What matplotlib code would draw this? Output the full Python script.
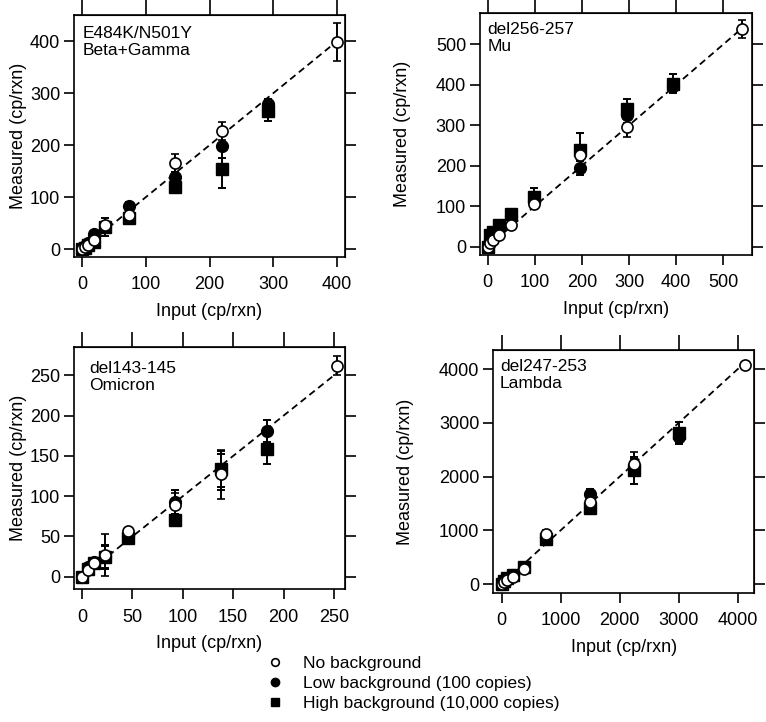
import matplotlib
matplotlib.use("Agg")
import matplotlib.pyplot as plt
from matplotlib.lines import Line2D
import numpy as np

plt.rcParams['font.family'] = ['Liberation Sans', 'DejaVu Sans']

# ---- data ----
# panel 1: E484K/N501Y
p1_x_open = [0, 4.6, 9.1, 18.3, 36.5, 73, 146, 219, 400]
p1_y_open = [0, 4, 9, 17, 46, 66, 166, 227, 398]
p1_e_open = [0.5, 1, 2, 3, 6, 5, 17, 17, 36]
p1_x_fill = [0, 4.6, 9.1, 18.3, 36.5, 73, 146, 219, 292]
p1_y_fill = [0, 6, 12, 30, 44, 84, 138, 198, 280]
p1_e_fill = [0.5, 2, 3, 5, 6, 6, 10, 23, 8]
p1_y_sq = [0, 3, 8, 14, 43, 60, 120, 154, 265]
p1_e_sq = [0.5, 2, 3, 4, 17, 5, 12, 36, 19]

# panel 2: del256-257
p2_x_open = [0, 6.2, 12.3, 24.6, 49, 98.5, 197, 295, 540]
p2_y_open = [0, 8, 16, 28, 54, 106, 227, 296, 538]
p2_e_open = [0.5, 1, 2, 3, 4, 12, 10, 25, 22]
p2_x_fill = [0, 6.2, 12.3, 24.6, 49, 98.5, 197, 295, 394]
p2_y_fill = [0, 20, 25, 45, 75, 112, 194, 325, 398]
p2_e_fill = [0.5, 2, 3, 4, 5, 8, 18, 20, 10]
p2_y_sq = [0, 30, 36, 53, 82, 123, 238, 341, 403]
p2_e_sq = [0.5, 3, 3, 4, 5, 22, 42, 25, 24]

# panel 3: del143-145
p3_x_open = [0, 5.75, 11.5, 23, 46, 92, 138, 253]
p3_y_open = [0, 8, 17, 27, 57, 89, 127, 262]
p3_e_open = [0.5, 1, 2, 26, 3, 15, 30, 12]
p3_x_fill = [0, 5.75, 11.5, 23, 46, 92, 138, 184]
p3_y_fill = [0, 12, 18, 25, 50, 93, 130, 181]
p3_e_fill = [0.5, 2, 3, 14, 3, 15, 22, 14]
p3_y_sq = [0, 10, 17, 24, 48, 70, 134, 159]
p3_e_sq = [0.5, 2, 3, 14, 3, 4, 22, 19]

# panel 4: del247-253
p4_x_open = [0, 47, 94, 188, 375, 750, 1500, 2250, 4120]
p4_y_open = [0, 40, 80, 140, 275, 940, 1520, 2230, 4080]
p4_e_open = [5, 10, 15, 20, 40, 60, 80, 220, 60]
p4_x_fill = [0, 47, 94, 188, 375, 750, 1500, 2250, 3000]
p4_y_fill = [0, 50, 100, 160, 300, 870, 1670, 2180, 2740]
p4_e_fill = [5, 10, 15, 20, 40, 60, 90, 150, 140]
p4_y_sq = [0, 60, 110, 170, 320, 830, 1410, 2120, 2820]
p4_e_sq = [5, 10, 15, 20, 40, 60, 80, 250, 200]

titles = ["E484K/N501Y\nBeta+Gamma", "del256-257\nMu", "del143-145\nOmicron", "del247-253\nLambda"]
legend_labels = ["No background", "Low background (100 copies)", "High background (10,000 copies)"]

panels = [
    (p1_x_open, p1_y_open, p1_e_open, p1_x_fill, p1_y_fill, p1_e_fill, p1_y_sq, p1_e_sq),
    (p2_x_open, p2_y_open, p2_e_open, p2_x_fill, p2_y_fill, p2_e_fill, p2_y_sq, p2_e_sq),
    (p3_x_open, p3_y_open, p3_e_open, p3_x_fill, p3_y_fill, p3_e_fill, p3_y_sq, p3_e_sq),
    (p4_x_open, p4_y_open, p4_e_open, p4_x_fill, p4_y_fill, p4_e_fill, p4_y_sq, p4_e_sq),
]

# axes boxes in figure fractions, limits, tick steps, text offsets
rects = [[0.0966, 0.644, 0.3538, 0.335],
         [0.6266, 0.6468, 0.3547, 0.3356],
         [0.0966, 0.1838, 0.3538, 0.336],
         [0.644, 0.179, 0.3403, 0.336]]
xlims = [(-12.5, 412.5), (-16, 560), (-8, 261), (-142, 4276)]
ylims = [(-15, 450), (-20.5, 578), (-15.6, 285.6), (-162, 4353)]
ticks = [np.arange(0, 401, 100), np.arange(0, 501, 100), np.arange(0, 251, 50), np.arange(0, 4001, 1000)]
text_pos = [(0.03, 0.955), (0.028, 0.96), (0.055, 0.94), (0.026, 0.963)]
ylabel_pad = [2, 18, 2, 18]

fig = plt.figure(figsize=(7.66, 7.22), dpi=100)

for i, (xo, yo, eo, xf, yf, ef, ys, es) in enumerate(panels):
    ax = fig.add_axes(rects[i])
    # identity line
    ax.plot([0, max(xo + xf)], [0, max(xo + xf)], color='black', lw=1.3,
            linestyle=(0, (3.8, 2.4)), zorder=1)
    kw = dict(ecolor='black', elinewidth=1.4, capsize=3, capthick=1.4, linestyle='none')
    ax.errorbar(xf, ys, yerr=es, marker='s', ms=8.5, mfc='black', mec='black', zorder=2, **kw)
    ax.errorbar(xf, yf, yerr=ef, marker='o', ms=8.5, mfc='black', mec='black', zorder=3, **kw)
    ax.errorbar(xo, yo, yerr=eo, marker='o', ms=8, mfc='white', mec='black', mew=1.2,
                zorder=4, **kw)
    ax.set_xlim(xlims[i])
    ax.set_ylim(ylims[i])
    ax.set_xticks(ticks[i])
    ax.set_yticks(ticks[i])
    ax.tick_params(direction='out', length=7, width=1.2, labelsize=13,
                   top=False, right=False)
    ax.tick_params(axis='x', pad=7)
    ax.tick_params(axis='y', pad=3)
    for s in ax.spines.values():
        s.set_linewidth(1.2)
    # longer ticks on top and right, no labels
    top = ax.secondary_xaxis('top')
    top.set_xticks(ticks[i])
    top.tick_params(direction='out', length=11, width=1.2, labeltop=False)
    right = ax.secondary_yaxis('right')
    right.set_yticks(ticks[i])
    right.tick_params(direction='out', length=8, width=1.2, labelright=False)
    ax.set_xlabel("Input (cp/rxn)", fontsize=13, labelpad=7)
    ax.set_ylabel("Measured (cp/rxn)", fontsize=13, labelpad=ylabel_pad[i])
    ax.text(text_pos[i][0], text_pos[i][1], titles[i], transform=ax.transAxes,
            ha='left', va='top', fontsize=12.5, linespacing=1.15)

handles = [
    Line2D([], [], linestyle='none', marker='o', ms=5.5, mfc='white', mec='black', mew=1.2),
    Line2D([], [], linestyle='none', marker='o', ms=6, mfc='black', mec='black'),
    Line2D([], [], linestyle='none', marker='s', ms=5.5, mfc='black', mec='black'),
]
fig.legend(handles, legend_labels, loc='upper left', bbox_to_anchor=(0.348, 0.092),
           frameon=False, fontsize=12.5, handlelength=1.0, handletextpad=1.1,
           labelspacing=0.3, borderpad=0, borderaxespad=0)

fig.savefig("out.png", dpi=100)
